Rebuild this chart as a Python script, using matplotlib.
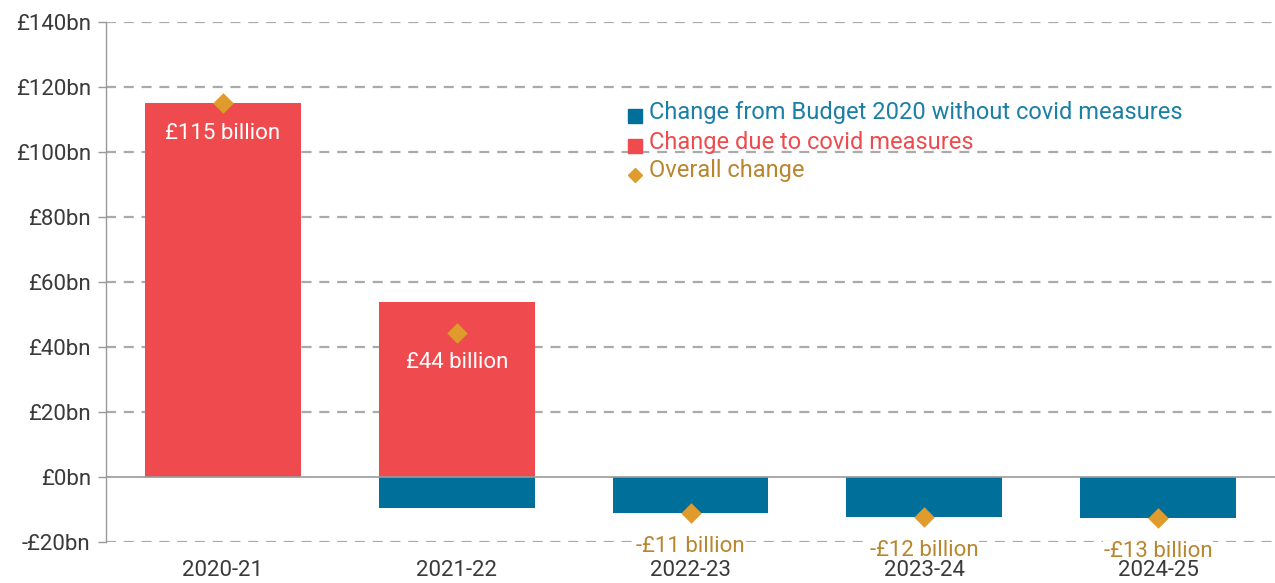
import matplotlib
matplotlib.use("Agg")
import matplotlib.pyplot as plt
import numpy as np

years = ["2020-21", "2021-22", "2022-23", "2023-24", "2024-25"]
without_covid = [0, -9.5, -11.1, -12.3, -12.6]
covid_measures = [115.2, 53.8, 0, 0, 0]
overall = [115, 44.3, -11, -12.3, -12.7]
labels = ["£115 billion", "£44 billion", "-£11 billion", "-£12 billion", "-£13 billion"]
yticks = [-20, 0, 20, 40, 60, 80, 100, 120, 140]
ytick_labels = ["-£20bn", "£0bn", "£20bn", "£40bn", "£60bn", "£80bn", "£100bn", "£120bn", "£140bn"]

BLUE = "#00709A"
RED = "#EF4B4E"
GOLD = "#E09B2D"
GOLD_TXT = "#B8862E"
BLUE_TXT = "#1B7FA6"
GRID = "#AAAAAA"

plt.rcParams['font.family'] = ['Roboto', 'DejaVu Sans']

fig = plt.figure(figsize=(12.75, 5.83), dpi=100)
ax = fig.add_axes([106/1275, (583-542)/583, 1 - 106/1275, (542-22)/583])
ax.xaxis.set_zorder(2.6)
ax.yaxis.set_zorder(2.6)

x = np.arange(len(years))
w = 0.667
ax.bar(x, without_covid, width=w, color=BLUE, zorder=3)
ax.bar(x, covid_measures, width=w, color=RED, zorder=3)
ax.scatter(x, overall, marker="D", s=110, color=GOLD, zorder=5, linewidths=0)

for i, (v, lab) in enumerate(zip(overall, labels)):
    if v > 0:
        ax.text(x[i], v - 9.2, lab, ha="center", va="center", color="white", fontsize=16, zorder=6)
    else:
        ax.text(x[i], v - 10.3, lab, ha="center", va="center", color=GOLD_TXT, fontsize=16, zorder=2,
                bbox=dict(facecolor="white", edgecolor="none", pad=0.3))

ax.set_xlim(-0.5, len(years) - 0.5)
ax.set_ylim(-20, 140)
ax.set_yticks(yticks)
ax.set_yticklabels(ytick_labels)
ax.set_xticks(x)
ax.set_xticklabels(years)
ax.tick_params(axis="y", length=6, color="#999999", width=1, labelsize=16, labelcolor="#3a3a3a", pad=5)
ax.tick_params(axis="x", length=0, labelsize=16, labelcolor="#3a3a3a", pad=13)

for yv in yticks:
    if yv == 0:
        continue
    ax.axhline(yv, color=GRID, linestyle=(0, (4.5, 3.5)), linewidth=1.6, zorder=1)
ax.axhline(0, color="#999999", linewidth=1.2, zorder=4)

for s in ["top", "right", "bottom"]:
    ax.spines[s].set_visible(False)
ax.spines["left"].set_color("#999999")
ax.spines["left"].set_linewidth(1)

# legend (manual)
leg_items = [("s", BLUE, "Change from Budget 2020 without covid measures", BLUE_TXT, 112),
             ("s", RED, "Change due to covid measures", RED, 142),
             ("D", GOLD, "Overall change", GOLD_TXT, 171)]
for mk, c, txt, tc, ypix in leg_items:
    yf = 1 - ypix / 583
    fig.text(649/1275, yf, txt, color=tc, fontsize=17, ha="left", va="center", zorder=10)
    ms = 10 if mk == "s" else 7
    fig.add_artist(plt.Line2D([635/1275], [yf - 0.007], marker=mk, color=c, markersize=ms,
                              linestyle="none", transform=fig.transFigure))

fig.savefig("out.png", dpi=100)
